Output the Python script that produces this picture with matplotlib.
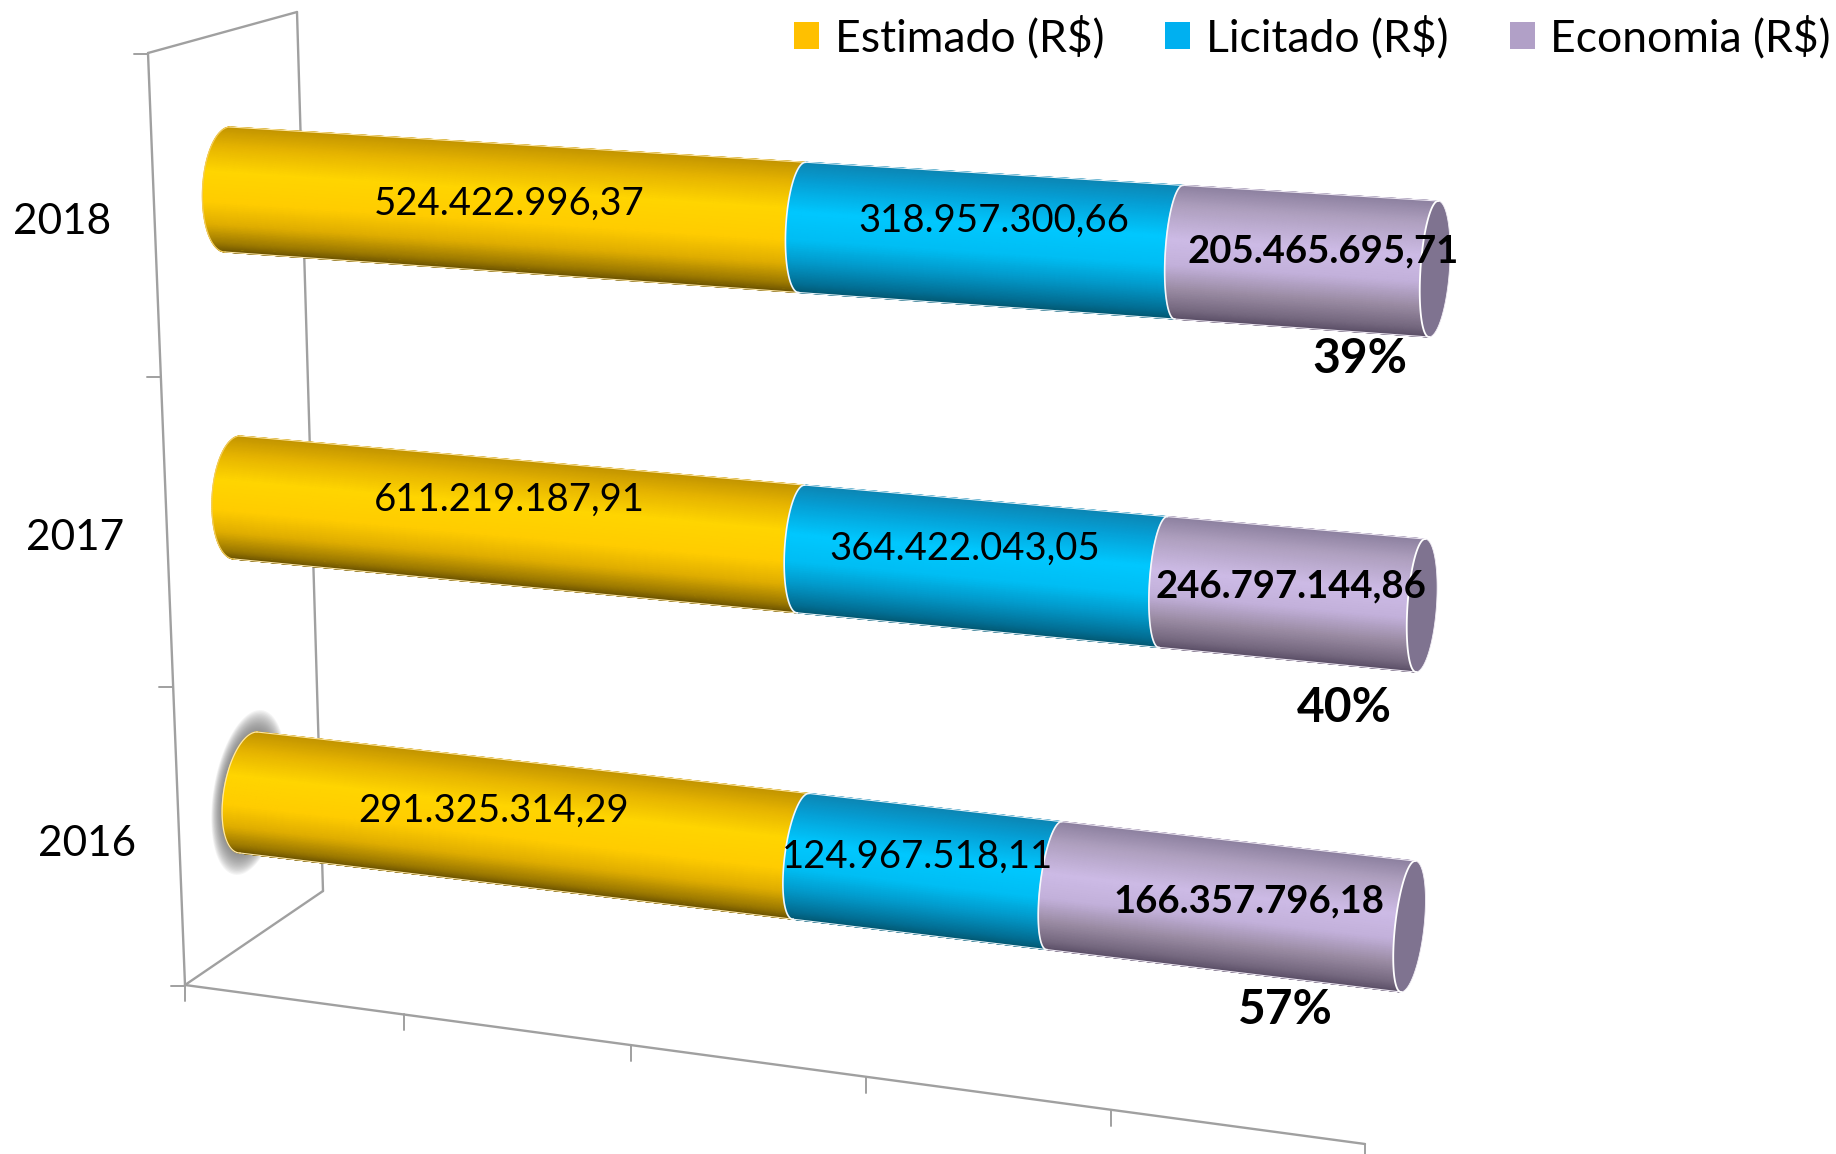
import numpy as np
import matplotlib
matplotlib.use("Agg")
import matplotlib.pyplot as plt
from matplotlib.colors import LinearSegmentedColormap
from matplotlib.patches import Patch, Polygon

plt.rcParams['font.family'] = ['Lato', 'DejaVu Sans']

# ---------- data ----------
years = ['2016', '2017', '2018']
estimado = [291325314.29, 611219187.91, 524422996.37]
licitado = [124967518.11, 364422043.05, 318957300.66]
economia = [166357796.18, 246797144.86, 205465695.71]
labels_est = ['291.325.314,29', '611.219.187,91', '524.422.996,37']
labels_lic = ['124.967.518,11', '364.422.043,05', '318.957.300,66']
labels_eco = ['166.357.796,18', '246.797.144,86', '205.465.695,71']
percent_labels = ['57%', '40%', '39%']
series_names = ['Estimado (R$)', 'Licitado (R$)', 'Economia (R$)']
x_ticks = [0, 0.2, 0.4, 0.6, 0.8, 1.0]

# ---------- layout (3-D scene, in image pixels) ----------
W, H = 1836, 1154
PERSP = -0.09
# top-left, bottom-left, top-right, bottom-right of every cylinder
bar_geom = {
    '2016': ((257, 732), (240, 853), (1415, 861), (1401, 992)),
    '2017': ((240, 436), (234, 559), (1425, 539), (1416, 672)),
    '2018': ((230, 127), (225, 252), (1438, 201), (1429, 337)),
}
value_pos = {
    '2016': ((494, 811), (918, 857), (1249, 901)),
    '2017': ((509, 500), (965, 549), (1291, 586)),
    '2018': ((509, 204), (994, 221), (1323, 251)),
}
pct_pos = {'2016': (1285, 1010), '2017': (1344, 708), '2018': (1360, 359)}
year_pos = {'2016': (87, 844), '2017': (75, 538), '2018': (62, 222)}
frame_front_top, frame_front_bot = (148, 53), (185, 985)
frame_back_top, frame_back_bot = (297, 12), (323, 891)
frame_axis_end = (1365, 1144)
cat_tick_y = [986, 687, 377, 54]

colors = ['#FFC000', '#00B0F0', '#B1A0C7']
gradients = [
    [(0, '#c39500'), (0.15, '#e6b400'), (0.35, '#ffd500'), (0.6, '#ffcc00'),
     (0.78, '#dfad00'), (0.93, '#9d7a00'), (1, '#6f5600')],
    [(0, '#0c86b4'), (0.15, '#05a0d6'), (0.38, '#00c8ff'), (0.6, '#00bdf3'),
     (0.78, '#0296c6'), (0.93, '#027096'), (1, '#025a75')],
    [(0, '#8d81a0'), (0.15, '#ae9fbe'), (0.4, '#cdbbe6'), (0.6, '#c2b0da'),
     (0.78, '#9a8ba3'), (0.93, '#766980'), (1, '#5d5169')],
]
cmaps = [LinearSegmentedColormap.from_list(f'c{i}', g) for i, g in enumerate(gradients)]
FRAME = '#a0a0a0'


def persp(u):
    """Share of the 100 % axis -> fraction of the on-screen length."""
    u = np.asarray(u, dtype=float)
    return (1 + PERSP) * u / (1 + PERSP * u)


def bulge(w):
    return 13 + 12 * (1 - w) ** 2


def surface(year, u, t):
    """Front surface of a cylinder: u = share along, t = -1 (top) .. 1 (bottom)."""
    tl, bl, tr, br = [np.array(p, float) for p in bar_geom[year]]
    w = persp(u)
    f = (t + 1) / 2
    top_x, top_y = tl[0] + (tr[0] - tl[0]) * w, tl[1] + (tr[1] - tl[1]) * w
    bot_x, bot_y = bl[0] + (br[0] - bl[0]) * w, bl[1] + (br[1] - bl[1]) * w
    x = top_x + (bot_x - top_x) * f - bulge(w) * np.sqrt(np.clip(1 - t ** 2, 0, 1))
    y = top_y + (bot_y - top_y) * f
    return x, y


fig = plt.figure(figsize=(W / 100, H / 100), dpi=100, facecolor='white')
ax = fig.add_axes([0, 0, 1, 1])
ax.set_xlim(0, W)
ax.set_ylim(H, 0)
ax.axis('off')

# ---------- frame ----------
def seg(a, b, lw=1.7, color=FRAME, z=1):
    ax.plot([a[0], b[0]], [a[1], b[1]], color=color, lw=lw, zorder=z, solid_capstyle='round')

seg(frame_front_top, frame_front_bot)
seg(frame_back_top, frame_back_bot)
seg(frame_front_top, frame_back_top)
seg(frame_front_bot, frame_back_bot)
seg(frame_front_bot, frame_axis_end)
for tick in x_ticks:
    w = persp(tick)
    px = frame_front_bot[0] + (frame_axis_end[0] - frame_front_bot[0]) * w
    py = frame_front_bot[1] + (frame_axis_end[1] - frame_front_bot[1]) * w
    seg((px, py), (px, py + 16), lw=1.4)
for cy in cat_tick_y:
    f = (cy - frame_front_top[1]) / (frame_front_bot[1] - frame_front_top[1])
    px = frame_front_top[0] + (frame_front_bot[0] - frame_front_top[0]) * f
    seg((px - 14, cy), (px, cy), lw=1.4)

# ---------- soft shadow behind the 2016 cylinder's end ----------
tl, bl = np.array(bar_geom['2016'][0], float), np.array(bar_geom['2016'][1], float)
centre = (tl + bl) / 2
half = (bl - tl) / 2
half_len = np.linalg.norm(half)
axis_dir = half / half_len
theta = np.linspace(0, 2 * np.pi, 120)
for k in np.arange(17, 0, -1.0):
    a = 26 + k * 0.55
    b = half_len + k * 1.3
    pts = centre + np.outer(a * np.cos(theta), [1, 0]) + np.outer(b * np.sin(theta), axis_dir)
    ax.add_patch(Polygon(pts, closed=True, fc='#6e6e6e', ec='none', alpha=0.07, zorder=2))

# ---------- cylinders ----------
thetas = np.linspace(0, np.pi, 90)
ts = -np.cos(thetas)
for i, year in reversed(list(enumerate(years))):
    vals = [estimado[i], licitado[i], economia[i]]
    total = sum(vals)
    edges = np.concatenate([[0], np.cumsum(vals) / total])
    base_z = 3 + (2 - i) * 0.1
    for s in range(3):
        us = np.linspace(edges[s], edges[s + 1], 50)
        U, T = np.meshgrid(us, ts)
        X, Y = surface(year, U, T)
        ax.pcolormesh(X, Y, T, cmap=cmaps[s], vmin=-1, vmax=1, shading='gouraud', zorder=base_z)
        edge_col = '#ffe8a8' if s == 0 else '#e8f4fa' if s == 1 else '#efe9f4'
        for tv in (-1.0, 1.0):
            ex, ey = surface(year, us, np.full_like(us, tv))
            ax.plot(ex, ey, color=edge_col, lw=0.8, zorder=base_z + 0.02)
    # left end outline
    ex, ey = surface(year, np.zeros_like(ts), ts)
    ax.plot(ex, ey, color='#f3cc5a' if year != '2016' else '#ffe8a8', lw=0.9, zorder=base_z + 0.02)
    # open right end
    tr, br = np.array(bar_geom[year][2], float), np.array(bar_geom[year][3], float)
    c = (tr + br) / 2
    ang = np.linspace(-np.pi / 2, np.pi / 2, 60)
    far = np.column_stack([c[0] + (tr[0] - br[0]) / 2 * -np.sin(ang) + 16 * np.cos(ang),
                           c[1] + (br[1] - tr[1]) / 2 * np.sin(ang)])
    nx, ny = surface(year, np.ones_like(ts), ts)
    near = np.column_stack([nx, ny])
    ax.add_patch(Polygon(np.vstack([near, far[::-1]]), closed=True, fc='#7f7390', ec='none',
                         zorder=base_z + 0.01))
    ax.plot(far[:, 0], far[:, 1], color='#f2eef5', lw=0.6, zorder=base_z + 0.02)
    ax.plot(nx, ny, color='white', lw=1.3, zorder=base_z + 0.03)
    # boundaries between the segments
    for e in edges[1:3]:
        bx, by = surface(year, np.full_like(ts, e), ts)
        ax.plot(bx, by, color='#f4f8fb', lw=1.2, zorder=base_z + 0.03)

# ---------- text ----------
LABEL_FS = 27.5
for i, year in enumerate(years):
    texts = (labels_est[i], labels_lic[i], labels_eco[i])
    for s, (txt, pos) in enumerate(zip(texts, value_pos[year])):
        ax.text(pos[0], pos[1], txt, ha='center', va='center', fontsize=LABEL_FS,
                fontweight='bold' if s == 2 else 'normal', color='black', zorder=10)
    ax.text(*pct_pos[year], percent_labels[i], ha='center', va='center', fontsize=34.5,
            fontweight='bold', color='black', zorder=10)
    ax.text(*year_pos[year], year, ha='center', va='center', fontsize=30.5, color='black', zorder=10)

handles = [Patch(facecolor=c, edgecolor='none', label=n) for c, n in zip(colors, series_names)]
ax.legend(handles=handles, ncol=3, frameon=False, fontsize=32, loc='upper right',
          bbox_to_anchor=(1831 / W, 1 - 16 / H), bbox_transform=ax.transAxes,
          borderaxespad=0, borderpad=0, handlelength=0.56, handleheight=0.56,
          handletextpad=0.36, columnspacing=1.37, labelspacing=0)

fig.savefig('out.png', dpi=100, facecolor='white')
